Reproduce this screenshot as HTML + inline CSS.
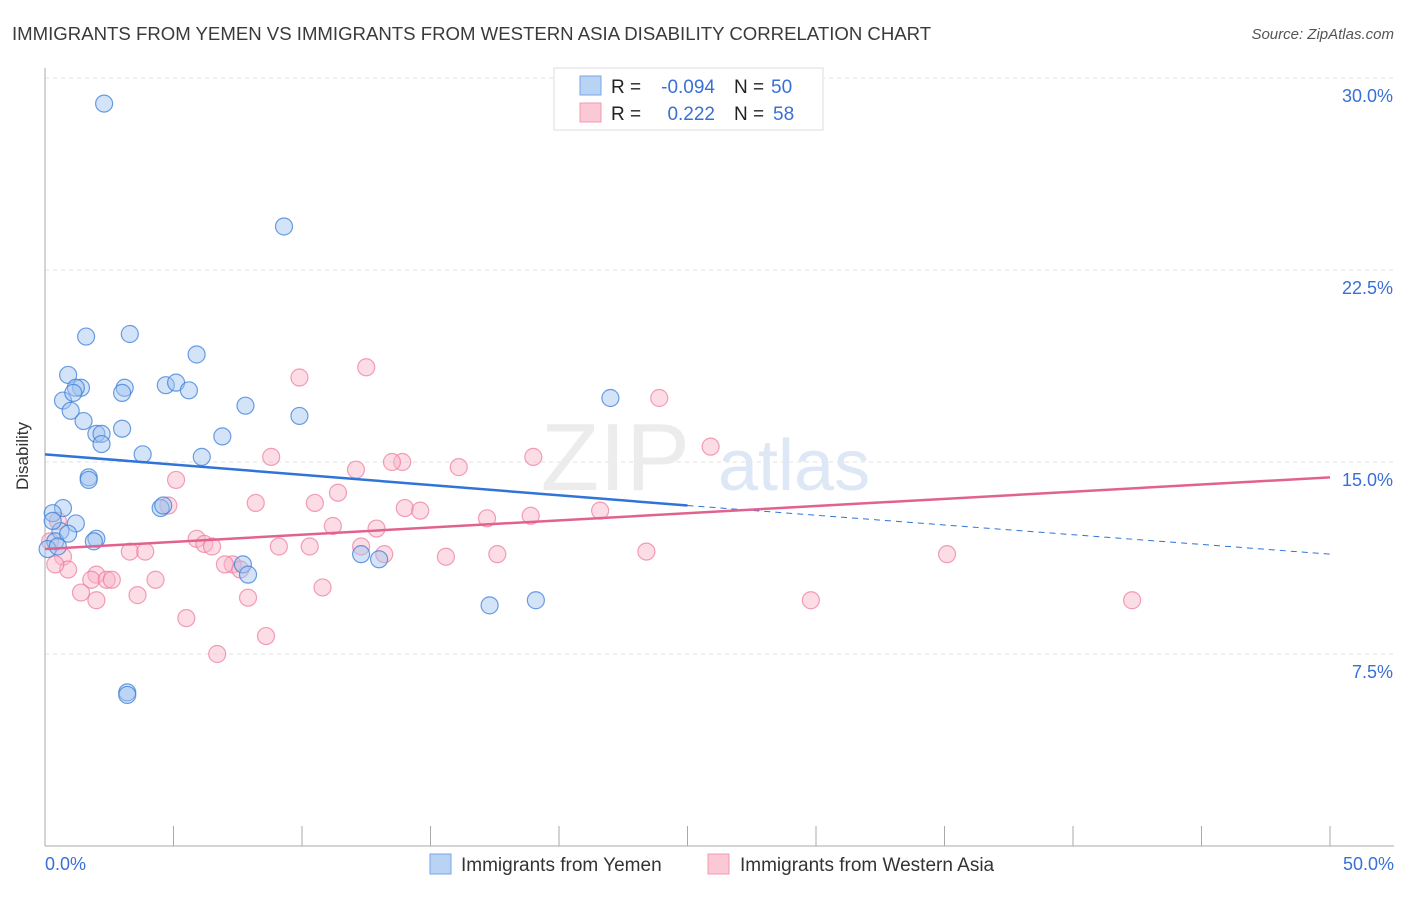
<!DOCTYPE html>
<html><head><meta charset="utf-8"><style>
body{margin:0;background:#fff;font-family:"Liberation Sans",sans-serif;}
svg text{font-family:"Liberation Sans",sans-serif;}
</style></head><body>
<svg id="chart" width="1406" height="892" xmlns="http://www.w3.org/2000/svg">
<text x="12" y="40" font-size="18.6" fill="#3a3a3a">IMMIGRANTS FROM YEMEN VS IMMIGRANTS FROM WESTERN ASIA DISABILITY CORRELATION CHART</text>
<text x="1394" y="39" font-size="15" fill="#555" font-style="italic" text-anchor="end">Source: ZipAtlas.com</text>
<g id="grid"></g>
<text x="690" y="490" font-size="96" fill="#ececec" text-anchor="end" font-family="Liberation Serif">ZIP</text>
<text x="718" y="490" font-size="72" fill="#dde7f5">atlas</text>
<line x1="45" y1="68" x2="45" y2="846" stroke="#aaa"/>
<line x1="45" y1="846" x2="1394" y2="846" stroke="#aaa"/>
<text x="28" y="456" font-size="17" fill="#333" text-anchor="middle" transform="rotate(-90 28 456)">Disability</text>
<text x="45" y="870" font-size="18" fill="#3a6fd6">0.0%</text>
<text x="1394" y="870" font-size="18" fill="#3a6fd6" text-anchor="end">50.0%</text>
<g id="points"></g>
<g id="trends"></g>
<g>
<rect x="554" y="68" width="269" height="62" fill="#fff" stroke="#ddd"/>
<rect x="580" y="76" width="21" height="19" fill="#b9d3f5" stroke="#7ba5e4"/>
<rect x="580" y="103" width="21" height="19" fill="#fbc9d6" stroke="#f09ab3"/>
<text x="611" y="93" font-size="19" fill="#222">R =</text>
<text x="715" y="93" font-size="19" fill="#3a6fd6" text-anchor="end">-0.094</text>
<text x="734" y="93" font-size="19" fill="#222">N =</text>
<text x="771" y="93" font-size="19" fill="#3a6fd6">50</text>
<text x="611" y="120" font-size="19" fill="#222">R =</text>
<text x="715" y="120" font-size="19" fill="#3a6fd6" text-anchor="end">0.222</text>
<text x="734" y="120" font-size="19" fill="#222">N =</text>
<text x="773" y="120" font-size="19" fill="#3a6fd6">58</text>
</g>
<g>
<rect x="430" y="854" width="21" height="20" fill="#b9d3f5" stroke="#7ba5e4"/>
<text x="461" y="871" font-size="19" fill="#333">Immigrants from Yemen</text>
<rect x="708" y="854" width="21" height="20" fill="#fbc9d6" stroke="#f09ab3"/>
<text x="740" y="871" font-size="19" fill="#333">Immigrants from Western Asia</text>
</g>
</svg>
<script>
const yTicks=[7.5,15,22.5,30];
const yTickLabels=["7.5%","15.0%","22.5%","30.0%"];
const blueX=[2.3,9.3,1.6,3.3,5.9,0.9,1.4,1.2,3.1,3.0,4.7,5.1,5.6,0.7,1.1,7.8,1.0,9.9,1.5,2.0,2.2,3.0,6.9,3.8,6.1,2.2,1.7,1.7,4.5,4.6,0.7,0.3,1.2,0.6,0.4,0.9,2.0,1.9,0.1,0.5,7.7,7.9,12.3,13.0,17.3,19.1,22.0,3.2,3.2,0.3];
const blueY=[29.0,24.2,19.9,20.0,19.2,18.4,17.9,17.9,17.9,17.7,18.0,18.1,17.8,17.4,17.7,17.2,17.0,16.8,16.6,16.1,16.1,16.3,16.0,15.3,15.2,15.7,14.4,14.3,13.2,13.3,13.2,13.0,12.6,12.3,11.9,12.2,12.0,11.9,11.6,11.7,11.0,10.6,11.4,11.2,9.4,9.6,17.5,6.0,5.9,12.7];
const pinkX=[12.5,9.9,23.9,25.9,8.8,13.9,13.5,12.1,16.1,19.0,5.1,11.4,8.2,10.5,4.8,14.0,14.6,21.6,17.2,18.9,11.2,12.9,5.9,6.2,6.5,9.1,10.3,12.3,13.2,3.3,3.9,15.6,17.6,23.4,35.1,7.3,7.0,7.6,2.0,1.8,2.4,2.6,4.3,1.4,2.0,3.6,7.9,10.8,5.5,8.6,6.7,29.8,42.3,0.5,0.2,0.7,0.9,0.4];
const pinkY=[18.7,18.3,17.5,15.6,15.2,15.0,15.0,14.7,14.8,15.2,14.3,13.8,13.4,13.4,13.3,13.2,13.1,13.1,12.8,12.9,12.5,12.4,12.0,11.8,11.7,11.7,11.7,11.7,11.4,11.5,11.5,11.3,11.4,11.5,11.4,11.0,11.0,10.8,10.6,10.4,10.4,10.4,10.4,9.9,9.6,9.8,9.7,10.1,8.9,8.2,7.5,9.6,9.6,12.7,11.9,11.3,10.8,11.0];
const blueTrend=[15.3,13.3,11.4];
const pinkTrend=[11.6,14.4];
const NS="http://www.w3.org/2000/svg";
const xs=v=>45+v*25.7, ys=v=>846-v*25.6;
const grid=document.getElementById('grid');
yTicks.forEach((t,i)=>{
 const l=document.createElementNS(NS,'line');
 l.setAttribute('x1',45);l.setAttribute('x2',1394);l.setAttribute('y1',ys(t));l.setAttribute('y2',ys(t));
 l.setAttribute('stroke','#e2e2e2');l.setAttribute('stroke-dasharray','4,4');
 
 
 grid.appendChild(l);
 const tx=document.createElementNS(NS,'text');
 tx.setAttribute('x',1393);tx.setAttribute('y',ys(t)+24);tx.setAttribute('text-anchor','end');
 tx.setAttribute('font-size','18');tx.setAttribute('fill','#3a6fd6');tx.textContent=yTickLabels[i];
 
 
 grid.appendChild(tx);
});
for(let i=1;i<=10;i++){
 const l=document.createElementNS(NS,'line');
 const x=xs(i*5);
 l.setAttribute('x1',x);l.setAttribute('x2',x);l.setAttribute('y1',826);l.setAttribute('y2',846);l.setAttribute('stroke','#aaa');
 
 
 grid.appendChild(l);
}
const pts=document.getElementById('points');
function draw(X,Y,fill,stroke,name){
 X.forEach((x,i)=>{
  const c=document.createElementNS(NS,'circle');
  c.setAttribute('cx',xs(x));c.setAttribute('cy',ys(Y[i]));c.setAttribute('r',8.5);
  c.setAttribute('fill',fill);c.setAttribute('stroke',stroke);c.setAttribute('stroke-width','1.2');
  
  
  pts.appendChild(c);
 });
}
draw(pinkX,pinkY,'rgba(248,180,200,0.45)','rgba(236,120,155,0.7)','pink-point');
draw(blueX,blueY,'rgba(160,196,240,0.45)','rgba(60,125,215,0.75)','blue-point');
const tr=document.getElementById('trends');
function line(x1,y1,x2,y2,col,w,dash,name){
 const l=document.createElementNS(NS,'line');
 l.setAttribute('x1',xs(x1));l.setAttribute('y1',ys(y1));l.setAttribute('x2',xs(x2));l.setAttribute('y2',ys(y2));
 l.setAttribute('stroke',col);l.setAttribute('stroke-width',w);if(dash)l.setAttribute('stroke-dasharray',dash);
 
 
 tr.appendChild(l);
}
line(0,blueTrend[0],25,blueTrend[1],'#2f74d6',2.5,null,'blue-trend-line');
line(25,blueTrend[1],50,blueTrend[2],'#2f74d6',1,'6,5','blue-trend-extension');
line(0,pinkTrend[0],50,pinkTrend[1],'#e2628f',2.5,null,'pink-trend-line');
</script>
</body></html>
